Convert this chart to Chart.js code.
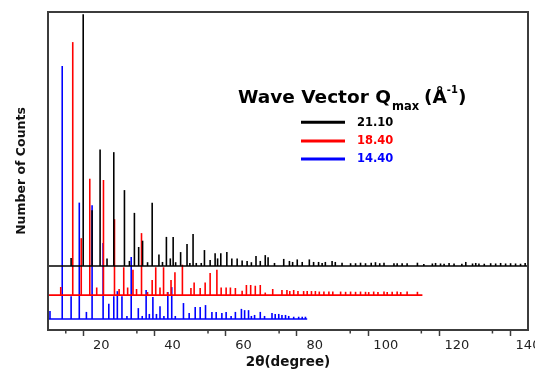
<!DOCTYPE html>
<html>
<head>
<meta charset="utf-8">
<script src="https://cdn.jsdelivr.net/npm/chart.js@4"></script>
<style>
  html, body { margin: 0; padding: 0; background: #fff; }
  #wrap { width: 535px; height: 369px; }
</style>
</head>
<body>
<div id="wrap"><canvas id="chartGraph"></canvas></div>
<script>
const ctx = document.getElementById('chartGraph');

// peak positions (2theta, degree) and relative intensities (max = 100)
const blackPos = [11.5, 14.9, 17.4, 19.65, 21.6, 23.5, 26.5, 27.9, 29.3, 30.5, 31.6, 33.0, 34.3, 36.2, 37.2, 38.3, 39.4, 40.2, 40.9, 42.3,
  44.1, 44.9, 45.8, 46.7, 48.1, 49.0, 50.6, 52.0, 52.7, 53.6, 55.3, 56.7, 58.2, 59.6, 61.0, 62.2, 63.5, 64.7, 66.1, 66.9,
  68.7, 71.3, 72.9, 73.8, 75.1, 76.5, 78.5, 79.7, 81.1, 82.1, 83.0, 84.9, 85.8, 87.7, 90.1, 91.5, 92.9, 94.3, 95.9, 97.1,
  98.3, 99.5, 102.3, 103.2, 104.6, 106.0, 108.9, 110.7, 113.1, 114.0, 115.4, 116.4, 117.8, 119.2, 121.4, 122.5, 124.4, 125.3,
  126.2, 127.7, 129.5, 130.9, 132.3, 133.7, 135.1, 136.5, 137.9, 139.2];
const blackInt = [3.2, 99.5, 22, 46, 3, 45, 30, 2, 21, 7.5, 10, 1.5, 25, 4.5, 1.6, 11.5, 3, 11.5, 1.5, 5.5,
  8.7, 1.2, 12.6, 1.2, 1.2, 6.3, 2.4, 5, 3, 5, 5.5, 3, 3, 2.2, 2, 1.5, 4, 2, 4.3, 3.5,
  1.2, 2.8, 2, 1.6, 2.6, 1.6, 2.6, 1.6, 1.6, 1.2, 1.6, 2, 1.6, 1.3, 1.1, 1.1, 1.3, 1.1, 1.3, 1.5,
  1.1, 1.3, 1.1, 1.1, 1.1, 1.1, 1.3, 0.8, 1, 1.2, 1, 0.9, 1.2, 1, 0.9, 1.6, 1, 1.2,
  1, 0.9, 1.1, 1, 1.2, 1, 1.1, 1, 0.9, 1.2];

const redPos = [8.58, 11.96, 14.35, 16.75, 18.7, 20.6, 23.7, 25.0, 26.3, 27.4, 28.9, 29.9, 31.3, 33.0, 34.3, 35.3, 36.5, 37.5, 38.6, 39.6,
  40.7, 42.8, 45.2, 46.1, 47.8, 49.2, 50.6, 52.5, 53.7, 55.1, 56.3, 57.7, 59.6, 60.8, 62.0, 63.3, 64.7, 66.1, 68.2, 70.8,
  72.2, 73.0, 74.1, 75.3, 76.9, 77.9, 79.1, 80.2, 81.3, 82.6, 84.0, 85.1, 87.3, 88.7, 90.1, 91.5, 92.9, 94.3, 95.2, 96.6,
  97.8, 99.5, 100.4, 101.8, 103.2, 104.2, 106.0, 108.9];
const redInt = [3.2, 100, 22.5, 46, 3, 45.5, 30, 2.4, 11, 3, 10, 2.4, 24.5, 1.2, 6, 11, 3, 11, 1.2, 6,
  9, 12, 2.8, 5, 2.8, 5, 8.7, 10, 3, 3, 3, 2.8, 1.7, 4, 4, 3.7, 4, 1, 2.4, 2,
  2, 1.6, 2, 1.6, 1.6, 1.6, 1.6, 1.6, 1.4, 1.4, 1.4, 1.4, 1.4, 1.3, 1.4, 1.3, 1.4, 1.3, 1.2, 1.4,
  1.2, 1.4, 1.2, 1.3, 1.4, 1.2, 1.4, 1.3];

const bluePos = [5.56, 9.0, 11.5, 13.8, 15.8, 17.4, 20.5, 22.1, 23.5, 24.5, 25.8, 27.2, 28.4, 30.4, 31.5, 32.6, 33.5, 34.5, 35.5, 36.5,
  37.6, 38.7, 39.8, 40.8, 43.1, 44.7, 46.4, 47.8, 49.3, 51.1, 52.3, 53.9, 55.1, 56.5, 57.7, 59.4, 60.3, 61.4, 62.2, 63.1,
  64.7, 65.9, 68.0, 68.9, 69.9, 70.8, 71.8, 72.7, 74.1, 75.5, 76.5, 77.4];
const blueInt = [3.2, 100, 9, 46, 2.8, 45, 30, 6, 9, 11, 9, 1.2, 24.5, 4.3, 1.2, 11.5, 2, 8.7, 2, 5,
  1.2, 10.7, 12.6, 1.2, 6.3, 2.4, 4.7, 4.7, 5.5, 2.8, 2.8, 2.4, 2.8, 1.2, 2.8, 4, 3.5, 3.5, 1.2, 1.6,
  2.8, 1.2, 2.4, 2, 2, 1.6, 1.6, 1.2, 0.9, 0.9, 0.9, 0.9];

const seriesLabels = ['21.10', '18.40', '14.40'];
const seriesColors = ['#000000', '#ff0000', '#0000ff'];
const offsets = [25.3, 13.8, 4.35];     // vertical shift of each pattern
const lastAngle = [140, 110.3, 77.9];   // where each pattern stops

function sticks(pos, ints, base) {
  return pos.map((p, i) => ({ x: p, y: [base, base + ints[i]] }));
}

function baseline(base, end) {
  return [{ x: 5, y: base }, { x: end, y: base }];
}

const allPos = [blackPos, redPos, bluePos];
const allInt = [blackInt, redInt, blueInt];

let datasets = [];
for (let i = 0; i < 3; i++) {
  datasets.push({
    type: 'bar',
    label: seriesLabels[i],
    data: sticks(allPos[i], allInt[i], offsets[i]),
    backgroundColor: seriesColors[i],
    borderWidth: 0,
    barThickness: 1.6,
    inflateAmount: 0,
    grouped: false,
    order: 10 + i
  });
  datasets.push({
    type: 'line',
    label: seriesLabels[i] + ' base',
    data: baseline(offsets[i], lastAngle[i]),
    borderColor: seriesColors[i],
    borderWidth: 1.6,
    pointRadius: 0,
    order: i
  });
}

const FONT = '"DejaVu Sans", sans-serif';

const decor = {
  id: 'decor',
  afterDatasetsDraw(chart) {
    const c = chart.ctx;
    const a = chart.chartArea;
    const x = chart.scales.x;
    c.save();
    c.strokeStyle = '#3c3c3c';
    c.lineWidth = 2;
    c.strokeRect(a.left, a.top, a.right - a.left, a.bottom - a.top);
    // minor ticks
    c.lineWidth = 1.5;
    x.ticks.forEach((t) => {
      if (t.value % 20 !== 0) {
        const px = x.getPixelForValue(t.value);
        c.beginPath();
        c.moveTo(px, a.bottom);
        c.lineTo(px, a.bottom + 3.5);
        c.stroke();
      }
    });

    // legend title
    c.fillStyle = '#000';
    c.textBaseline = 'alphabetic';
    let tx = 238;
    c.font = 'bold 18.5px ' + FONT;
    c.fillText('Wave Vector Q', tx, 103);
    tx += c.measureText('Wave Vector Q').width + 1;
    c.font = 'bold 11.5px ' + FONT;
    c.fillText('max', tx, 109.5);
    tx += c.measureText('max').width + 5;
    c.font = 'bold 18.5px ' + FONT;
    c.fillText('(Å', tx, 103);
    tx += c.measureText('(Å').width;
    c.font = 'bold 10px ' + FONT;
    c.fillText('-1', tx, 93);
    tx += c.measureText('-1').width;
    c.font = 'bold 18.5px ' + FONT;
    c.fillText(')', tx, 103);

    // legend rows
    const rowY = [122.3, 141, 159];
    c.lineWidth = 3;
    c.textBaseline = 'middle';
    c.font = 'bold 11.5px ' + FONT;
    for (let i = 0; i < 3; i++) {
      c.strokeStyle = seriesColors[i];
      c.beginPath();
      c.moveTo(301, rowY[i]);
      c.lineTo(345, rowY[i]);
      c.stroke();
      c.fillStyle = seriesColors[i];
      c.fillText(seriesLabels[i], 357, rowY[i] + 0.5);
    }
    c.restore();
  }
};

new Chart(ctx, {
  type: 'bar',
  data: { datasets: datasets },
  plugins: [decor],
  options: {
    responsive: true,
    maintainAspectRatio: false,
    animation: false,
    layout: { padding: { left: 0, right: 7, top: 12, bottom: 0 } },
    plugins: {
      legend: { display: false },
      tooltip: { enabled: false }
    },
    scales: {
      x: {
        type: 'linear',
        min: 5,
        max: 140,
        offset: false,
        afterBuildTicks: (s) => { s.ticks = s.ticks.filter((t) => t.value % 10 === 0); },
        afterFit: (s) => { s.height = 39; s.paddingLeft = 0; s.paddingRight = 0; },
        border: { display: false },
        grid: {
          drawOnChartArea: false,
          tickLength: 6,
          tickWidth: 1.5,
          tickColor: (c) => (c.tick && c.tick.value % 20 === 0) ? '#3c3c3c' : 'rgba(0,0,0,0)'
        },
        ticks: {
          stepSize: 10,
          autoSkip: false,
          maxRotation: 0,
          padding: 2,
          color: '#222',
          font: { family: FONT, size: 13 },
          callback: (v) => (v % 20 === 0 ? v : '')
        },
        title: {
          display: true,
          text: '2θ(degree)',
          color: '#111',
          font: { family: FONT, size: 13.5, weight: 'bold', lineHeight: 1 },
          padding: { top: 0, bottom: 0 }
        }
      },
      y: {
        min: 0,
        max: 125.7,
        afterFit: (s) => { s.width = 48; s.paddingTop = 0; s.paddingBottom = 0; },
        border: { display: false },
        grid: { display: false },
        ticks: { display: false },
        title: {
          display: true,
          text: 'Number of Counts',
          color: '#111',
          font: { family: FONT, size: 12.5, weight: 'bold' },
          padding: { top: 14.5, bottom: 0 }
        }
      }
    }
  }
});
</script>
</body>
</html>
